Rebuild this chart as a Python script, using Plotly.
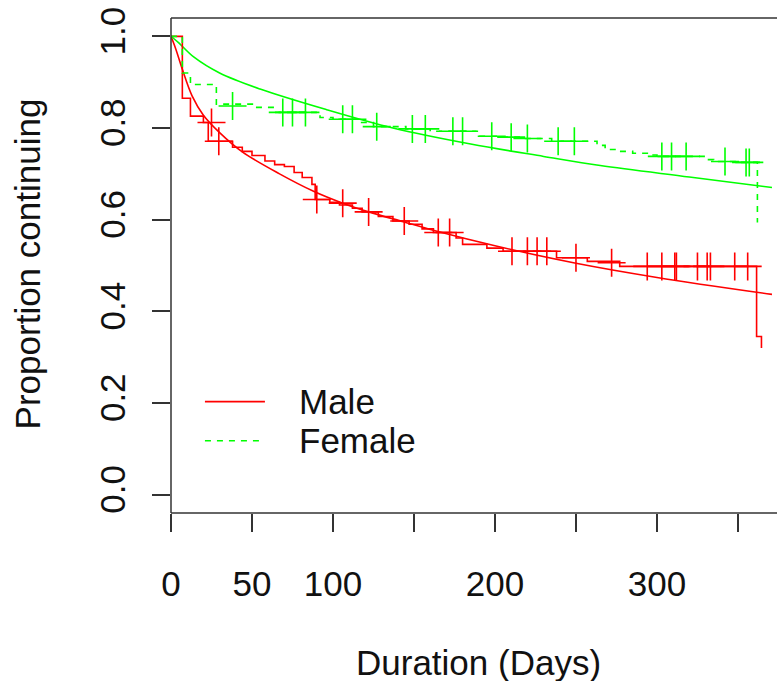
import plotly.graph_objects as go

# ---------------- data ----------------
# Kaplan-Meier step estimate, males
male_km_days = [0, 7, 12, 20, 23, 38, 44, 50, 58, 64, 70, 76, 81, 87, 89, 98, 104, 112, 118,
                128, 137, 147, 155, 162, 176, 180, 195, 205, 238, 257, 277, 361.5, 364.5]
male_km_surv = [1.0, 0.865, 0.826, 0.812, 0.771, 0.758, 0.749, 0.740, 0.728, 0.720, 0.716, 0.703,
                0.692, 0.677, 0.644, 0.638, 0.632, 0.625, 0.617, 0.607, 0.597, 0.590, 0.580, 0.572,
                0.560, 0.546, 0.538, 0.531, 0.517, 0.509, 0.498, 0.345, 0.320]
# censoring marks, males
male_cens_days = [25, 29.5, 90, 106, 122, 144, 165, 172, 210.5, 220, 226, 232, 250, 272,
                  294, 303, 311, 312, 325, 331, 333, 348, 356]
male_cens_surv = [0.812, 0.771, 0.644, 0.636, 0.617, 0.597, 0.572, 0.572, 0.531, 0.531, 0.531,
                  0.531, 0.517, 0.506, 0.498, 0.498, 0.498, 0.498, 0.498, 0.498, 0.498, 0.498, 0.498]
# fitted parametric curve, males
male_fit_days = [0, 3, 7, 13, 20, 30, 44, 67, 88, 106, 122, 144, 166, 200, 250, 300, 371]
male_fit_surv = [1.0, 0.972, 0.928, 0.870, 0.828, 0.790, 0.748, 0.700, 0.662, 0.636, 0.617,
                 0.595, 0.573, 0.543, 0.505, 0.474, 0.437]

# Kaplan-Meier step estimate, females
female_km_days = [0, 7, 12, 28, 52, 64, 92, 100, 115, 125, 145, 160, 190, 205, 215, 235, 263,
                  268, 276, 285, 295, 300, 330, 335, 350, 362]
female_km_surv = [1.0, 0.920, 0.895, 0.852, 0.845, 0.834, 0.823, 0.819, 0.812, 0.803, 0.798,
                  0.793, 0.782, 0.780, 0.777, 0.771, 0.762, 0.753, 0.749, 0.745, 0.741, 0.738,
                  0.731, 0.727, 0.725, 0.594]
# censoring marks, females
female_cens_days = [38, 69, 75, 83, 106, 112, 127, 149, 157, 174, 180, 198, 210, 220, 239, 249,
                    303, 309, 318, 342, 355, 357]
female_cens_surv = [0.848, 0.834, 0.834, 0.834, 0.819, 0.819, 0.803, 0.798, 0.798, 0.793, 0.793,
                    0.782, 0.780, 0.777, 0.771, 0.771, 0.738, 0.738, 0.738, 0.727, 0.725, 0.725]
# fitted parametric curve, females
female_fit_days = [0, 5, 14, 30, 55, 96, 137, 185, 230, 265, 320, 371]
female_fit_surv = [1.0, 0.985, 0.955, 0.920, 0.885, 0.840, 0.800, 0.765, 0.738, 0.718, 0.693, 0.670]

x_tick_vals = [0, 50, 100, 150, 200, 250, 300, 350]
x_tick_text = ["0", "50", "100", "", "200", "", "300", ""]
y_tick_vals = [0.0, 0.2, 0.4, 0.6, 0.8, 1.0]
y_tick_text = ["0.0", "0.2", "0.4", "0.6", "0.8", "1.0"]

legend_labels = ["Male", "Female"]

RED = "#FF0000"
GREEN = "#00FF00"
AXIS = "#333333"
FONT = "Liberation Sans, Arial, sans-serif"
FS = 35

fig = go.Figure()

# fitted curves
fig.add_trace(go.Scatter(x=male_fit_days, y=male_fit_surv, mode="lines",
                         line=dict(color=RED, width=1.6, shape="spline", smoothing=1.0),
                         showlegend=False, hoverinfo="skip"))
fig.add_trace(go.Scatter(x=female_fit_days, y=female_fit_surv, mode="lines",
                         line=dict(color=GREEN, width=1.6, shape="spline", smoothing=1.0),
                         showlegend=False, hoverinfo="skip"))
# KM steps
fig.add_trace(go.Scatter(x=male_km_days, y=male_km_surv, mode="lines",
                         line=dict(color=RED, width=1.6, shape="hv"),
                         showlegend=False))
fig.add_trace(go.Scatter(x=female_km_days, y=female_km_surv, mode="lines",
                         line=dict(color=GREEN, width=1.6, shape="hv", dash="6px,6px"),
                         showlegend=False))
# censor marks
fig.add_trace(go.Scatter(x=male_cens_days, y=male_cens_surv, mode="markers",
                         marker=dict(symbol="cross-thin", size=20, line=dict(color=RED, width=1.6)),
                         showlegend=False))
fig.add_trace(go.Scatter(x=female_cens_days, y=female_cens_surv, mode="markers",
                         marker=dict(symbol="cross-thin", size=20, line=dict(color=GREEN, width=1.6)),
                         showlegend=False))

# box (right side is cut off in the reference)
for (x0, y0, x1, y1) in [(0, 0, 0, 1), (0, 1, 1, 1), (0, 0, 1, 0)]:
    fig.add_shape(type="line", xref="paper", yref="paper", x0=x0, y0=y0, x1=x1, y1=y1,
                  line=dict(color=AXIS, width=1.5))

# manual legend (R style, no box)
leg_colors = [RED, GREEN]
leg_dash = ["solid", "6px,6px"]
leg_y = [0.225, 0.146]
for lab, col, dsh, ly in zip(legend_labels, leg_colors, leg_dash, leg_y):
    fig.add_shape(type="line", xref="paper", yref="paper", x0=0.056, x1=0.155, y0=ly, y1=ly,
                  line=dict(color=col, width=1.6, dash=dsh))
    fig.add_annotation(xref="paper", yref="paper", x=0.208, y=ly, text=lab, showarrow=False,
                       xanchor="left", yanchor="middle",
                       font=dict(family=FONT, size=FS, color="#111111"))

# axis titles
fig.add_annotation(xref="paper", yref="paper", x=0.508, y=-0.303, text="Duration (Days)",
                   showarrow=False, xanchor="center", yanchor="middle",
                   font=dict(family=FONT, size=FS, color="#111111"))
fig.add_annotation(xref="paper", yref="paper", x=-0.237, y=0.503, text="Proportion continuing",
                   showarrow=False, textangle=-90, xanchor="center", yanchor="middle",
                   font=dict(family=FONT, size=FS, color="#111111"))

fig.update_xaxes(range=[0, 374.1], tickvals=x_tick_vals, ticktext=x_tick_text,
                 ticks="outside", ticklen=18, tickwidth=1.5, tickcolor=AXIS,
                 showline=False, showgrid=False, zeroline=False,
                 ticklabelstandoff=22,
                 tickfont=dict(family=FONT, size=FS, color="#111111"))
fig.update_yaxes(range=[-0.04, 1.04], tickvals=y_tick_vals, ticktext=y_tick_text,
                 ticks="outside", ticklen=18, tickwidth=1.5, tickcolor=AXIS,
                 showline=False, showgrid=False, zeroline=False,
                 tickangle=-90, ticklabelstandoff=13,
                 tickfont=dict(family=FONT, size=FS, color="#111111"))

fig.update_layout(width=777, height=681, margin=dict(l=171, r=0, t=18, b=168),
                  paper_bgcolor="white", plot_bgcolor="white", showlegend=False)

fig.write_html("out.html")
